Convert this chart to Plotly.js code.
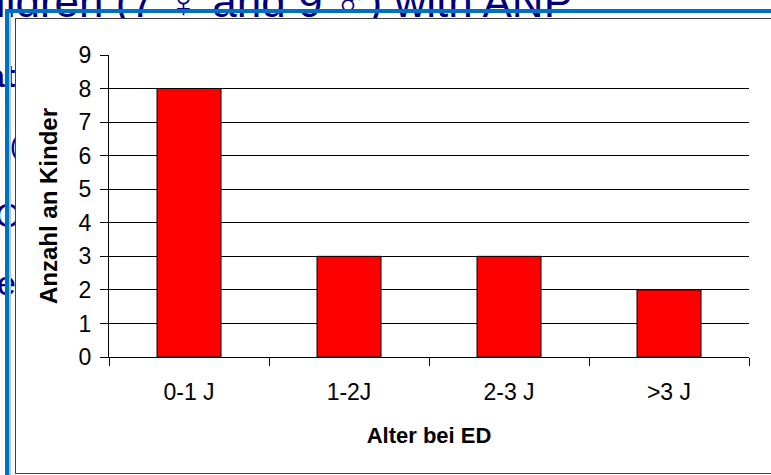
<!DOCTYPE html>
<html>
<head>
<meta charset="utf-8">
<script src="https://cdn.plot.ly/plotly-3.0.1.min.js"></script>
<style>
  html, body { margin:0; padding:0; overflow:hidden; background:#ffffff; }
  #page { position:relative; width:771px; height:475px; overflow:hidden; background:#ffffff; font-family:"Liberation Sans", Arial, sans-serif; }
  .slide { position:absolute; color:#000080; white-space:nowrap; line-height:1; }
  #slideTitle { right:198px; top:-20px; font-size:44px; }
  .frag { font-size:34px; }
  .blue { position:absolute; background:#0070C0; }
  #chartBox { position:absolute; left:15px; top:18px; width:800px; height:454px; border:1px solid #404040; background:#ffffff; overflow:hidden; }
  #chart { position:absolute; left:0; top:0; width:780px; height:454px; }
</style>
</head>
<body>
<div id="page">
<div class="slide" id="slideTitle">children (7 ♀ and 9 ♂) with ANP</div>
<div class="slide frag" style="left:-13px; top:60px; font-weight:bold; font-size:32px;">at</div>
<div class="slide frag" style="left:10px; top:133px; font-size:26px;">(</div>
<div class="slide frag" style="left:-5px; top:198px;">C</div>
<div class="slide frag" style="left:-3px; top:266px;">e</div>
<div class="blue" style="left:5px; top:9px; width:766px; height:4px;"></div>
<div class="blue" style="left:5px; top:9px; width:4px; height:466px;"></div>
<div style="position:absolute; left:9px; top:13px; width:2px; height:462px; background:#A8C8E8;"></div>
<div id="chartBox"><div id="chart"></div></div>
</div>
<script>
const categories = ['0-1 J', '1-2J', '2-3 J', '>3 J'];
const counts = [8, 3, 3, 2];
const xTitle = 'Alter bei ED';
const yTitle = 'Anzahl an Kinder';

const FONT = '"Liberation Sans", Arial, sans-serif';

const trace = {
  type: 'bar',
  x: categories,
  y: counts,
  marker: { color: '#FF0000', line: { color: '#000000', width: 1 } },
  hoverinfo: 'x+y'
};

const layout = {
  width: 780,
  height: 454,
  margin: { l: 93, r: 47, t: 36, b: 116 },
  paper_bgcolor: '#ffffff',
  plot_bgcolor: 'rgba(0,0,0,0)',
  font: { family: FONT, color: '#000000' },
  bargap: 0.6,
  showlegend: false,
  xaxis: {
    type: 'category',
    tickson: 'boundaries',
    ticks: 'outside',
    ticklen: 8,
    tickwidth: 1,
    tickcolor: '#000000',
    showline: true,
    linecolor: '#000000',
    linewidth: 1,
    showgrid: false,
    zeroline: false,
    tickfont: { family: FONT, size: 23, color: '#000000' },
    ticklabelstandoff: 14,
    title: { text: xTitle, font: { family: FONT, size: 22, weight: 'bold', color: '#000000' }, standoff: 24 }
  },
  yaxis: {
    range: [0, 9],
    tick0: 0,
    dtick: 1,
    ticks: 'outside',
    ticklen: 8,
    tickwidth: 1,
    tickcolor: '#000000',
    showline: true,
    linecolor: '#000000',
    linewidth: 1,
    showgrid: true,
    gridcolor: '#000000',
    gridwidth: 1,
    zeroline: false,
    tickfont: { family: FONT, size: 23, color: '#000000' },
    ticklabelstandoff: 4,
    title: { text: yTitle, font: { family: FONT, size: 24, weight: 'bold', color: '#000000' }, standoff: 14 }
  }
};

Plotly.newPlot('chart', [trace], layout, { displayModeBar: false, responsive: false });
</script>
</body>
</html>
